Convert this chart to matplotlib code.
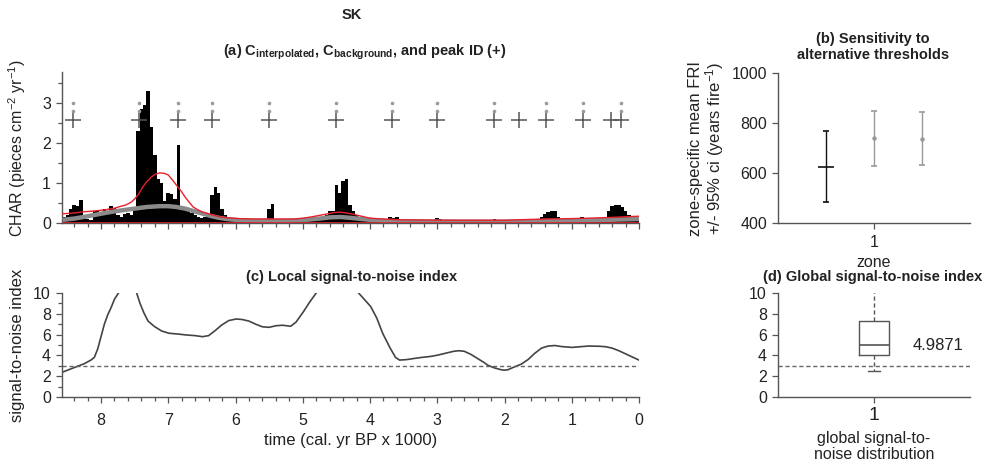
import numpy as np
import matplotlib
matplotlib.use("Agg")
import matplotlib.pyplot as plt
from matplotlib.ticker import MultipleLocator

plt.rcParams['font.family'] = ['Liberation Sans', 'DejaVu Sans']
plt.rcParams['mathtext.fontset'] = 'custom'
plt.rcParams['mathtext.rm'] = 'Liberation Sans'
plt.rcParams['mathtext.bf'] = 'Liberation Sans:bold'
plt.rcParams['mathtext.it'] = 'Liberation Sans:italic'

# --- (a) interpolated CHAR, 50-yr bins, oldest first (start 8.55 kyr BP)
char_start, char_step = 8.55, 0.05
char_values = [
    0.15, 0.20, 0.35, 0.45, 0.42, 0.58, 0.12, 0.10, 0.08, 0.30,
    0.33, 0.25, 0.35, 0.30, 0.42, 0.38, 0.20, 0.15, 0.22, 0.25,
    0.20, 0.35, 2.30, 2.85, 2.95, 3.30, 2.40, 1.70, 1.10, 1.00,
    0.55, 0.75, 0.72, 0.60, 1.95, 0.40, 0.35, 0.30, 0.25, 0.20,
    0.15, 0.12, 0.15, 0.20, 0.70, 0.90, 0.75, 0.35, 0.20, 0.12,
    0.10, 0.08, 0.06, 0.05, 0.08, 0.06, 0.05, 0.07, 0.05, 0.04,
    0.05, 0.35, 0.48, 0.05, 0.04, 0.03, 0.05, 0.04, 0.05, 0.06,
    0.05, 0.06, 0.08, 0.07, 0.08, 0.10, 0.12, 0.15, 0.20, 0.30,
    0.30, 0.95, 0.75, 1.05, 1.10, 0.45, 0.30, 0.20, 0.10, 0.08,
    0.06, 0.05, 0.05, 0.04, 0.05, 0.06, 0.08, 0.15, 0.12, 0.15,
    0.10, 0.05, 0.04, 0.03, 0.04, 0.03, 0.04, 0.03, 0.04, 0.05,
    0.08, 0.12, 0.10, 0.04, 0.03, 0.03, 0.02, 0.03, 0.02, 0.03,
    0.02, 0.03, 0.02, 0.03, 0.03, 0.04, 0.05, 0.06, 0.10, 0.05,
    0.04, 0.04, 0.05, 0.04, 0.05, 0.08, 0.10, 0.06, 0.05, 0.05,
    0.06, 0.08, 0.15, 0.22, 0.28, 0.30, 0.30, 0.15, 0.08, 0.07,
    0.06, 0.07, 0.08, 0.10, 0.15, 0.12, 0.08, 0.07, 0.08, 0.10,
    0.12, 0.15, 0.30, 0.42, 0.45, 0.45, 0.40, 0.30, 0.20, 0.15,
    0.12, 0.10,
]

# threshold (red) curve
thr_age = [8.57, 8.40, 8.26, 8.10, 7.94, 7.80, 7.70, 7.63, 7.55, 7.50, 7.44,
           7.38, 7.32, 7.25, 7.19, 7.13, 7.06, 7.00, 6.94, 6.88, 6.81, 6.75,
           6.69, 6.63, 6.56, 6.50, 6.38, 6.25, 6.13, 5.95, 5.75, 5.40, 5.13,
           5.00, 4.88, 4.75, 4.63, 4.54, 4.44, 4.35, 4.25, 4.13, 4.00, 3.80,
           3.56, 2.94, 2.00, 1.70, 1.38, 1.00, 0.75, 0.40, 0.00]
thr_val = [0.23, 0.25, 0.28, 0.30, 0.33, 0.37, 0.42, 0.45, 0.52, 0.60, 0.72,
           0.90, 1.03, 1.15, 1.22, 1.25, 1.24, 1.20, 1.08, 0.95, 0.80, 0.65,
           0.52, 0.40, 0.33, 0.28, 0.22, 0.16, 0.13, 0.11, 0.10, 0.10, 0.10,
           0.12, 0.15, 0.19, 0.23, 0.26, 0.27, 0.25, 0.22, 0.17, 0.12, 0.10,
           0.08, 0.07, 0.07, 0.085, 0.10, 0.11, 0.12, 0.14, 0.17]

# background (grey) curve
bkg_age = [8.57, 8.40, 8.26, 8.10, 7.94, 7.80, 7.63, 7.45, 7.32, 7.13, 7.00,
           6.88, 6.75, 6.63, 6.50, 6.38, 6.25, 6.13, 5.95, 5.75, 5.40, 5.13,
           4.95, 4.75, 4.60, 4.44, 4.30, 4.13, 3.95, 3.75, 3.30, 2.63, 2.00,
           1.38, 0.90, 0.44, 0.00]
bkg_val = [0.08, 0.11, 0.15, 0.20, 0.25, 0.29, 0.33, 0.37, 0.40, 0.42, 0.42,
           0.40, 0.36, 0.30, 0.24, 0.18, 0.13, 0.10, 0.07, 0.06, 0.05, 0.06,
           0.08, 0.11, 0.14, 0.15, 0.13, 0.10, 0.07, 0.05, 0.04, 0.03, 0.03,
           0.05, 0.06, 0.08, 0.10]

peak_ages = [8.41, 7.44, 6.85, 6.35, 5.50, 4.50, 3.68, 3.00, 2.15, 1.78,
             1.38, 0.84, 0.41, 0.27]
peak_y = 2.58
alt_ages = [8.41, 7.44, 6.85, 6.35, 5.50, 4.50, 3.68, 3.00, 2.15,
            1.38, 0.84, 0.27]
alt_y = [3.0, 2.8]

# --- (b) FRI sensitivity to thresholds
fri_x = [0.75, 1.0, 1.25]
fri_mean = [624, 739, 736]
fri_lo = [485, 627, 631]
fri_hi = [768, 848, 844]

# --- (c) local signal-to-noise index
sni_age = [8.56, 8.45, 8.35, 8.25, 8.15, 8.10, 8.05, 8.00, 7.95, 7.90, 7.85,
           7.80, 7.74, 7.70, 7.60, 7.50, 7.47, 7.42, 7.36, 7.30, 7.21, 7.10,
           6.99, 6.85, 6.74, 6.60, 6.49, 6.40, 6.30, 6.21, 6.10, 5.99, 5.90,
           5.80, 5.70, 5.60, 5.50, 5.40, 5.30, 5.18, 5.10, 4.99, 4.90, 4.80,
           4.60, 4.40, 4.17, 4.10, 3.99, 3.90, 3.81, 3.70, 3.62, 3.56, 3.45,
           3.35, 3.24, 3.10, 2.99, 2.85, 2.75, 2.68, 2.60, 2.50, 2.40, 2.30,
           2.25, 2.15, 2.05, 2.00, 1.95, 1.85, 1.75, 1.65, 1.55, 1.45, 1.35,
           1.25, 1.15, 1.00, 0.90, 0.75, 0.60, 0.50, 0.40, 0.30, 0.20, 0.10,
           0.00]
sni_val = [2.42, 2.70, 2.95, 3.20, 3.55, 3.80, 4.60, 5.80, 7.00, 7.90, 8.60,
           9.40, 10.0, 10.6, 11.2, 10.6, 10.0, 9.00, 8.06, 7.30, 6.80, 6.35,
           6.13, 6.05, 5.97, 5.90, 5.80, 5.90, 6.40, 6.90, 7.35, 7.50, 7.45,
           7.30, 7.00, 6.75, 6.70, 6.85, 6.90, 6.80, 7.20, 8.20, 9.10, 10.0,
           11.5, 11.5, 10.0, 9.50, 8.70, 7.60, 6.10, 4.70, 3.80, 3.55, 3.60,
           3.70, 3.80, 3.90, 4.03, 4.25, 4.40, 4.45, 4.40, 4.10, 3.70, 3.30,
           3.06, 2.80, 2.62, 2.58, 2.62, 2.90, 3.16, 3.60, 4.20, 4.70, 4.90,
           4.95, 4.85, 4.77, 4.82, 4.90, 4.88, 4.84, 4.70, 4.45, 4.15, 3.85,
           3.55]
sni_threshold = 3

# --- (d) global signal-to-noise distribution
gsni_stats = dict(med=5.0, q1=4.0, q3=7.3, whislo=2.5, whishi=10.5, fliers=[])
gsni_median_label = '4.9871'

fig = plt.figure(figsize=(9.9, 4.61), dpi=100)
W, H = 990.0, 461.0


def box(l, t, r, b):
    return [l / W, 1 - b / H, (r - l) / W, (b - t) / H]


axc_col = '#555555'
txt_col = '#222222'


def style(ax):
    for s in ['top', 'right']:
        ax.spines[s].set_visible(False)
    for s in ['left', 'bottom']:
        ax.spines[s].set_color(axc_col)
        ax.spines[s].set_linewidth(1.0)
    ax.tick_params(which='both', direction='out', color=axc_col, width=0.9,
                   labelsize=11.5, labelcolor=txt_col)
    ax.tick_params(which='major', length=4.5)
    ax.tick_params(which='minor', length=3)


ax_a = fig.add_axes(box(62, 72, 639, 223))
ax_b = fig.add_axes(box(778, 73, 970, 223))
ax_c = fig.add_axes(box(62, 293, 639, 397))
ax_d = fig.add_axes(box(778, 293, 970, 397))
for ax in (ax_a, ax_b, ax_c, ax_d):
    style(ax)

# (a)
ages = char_start - char_step * np.arange(len(char_values))
ax_a.bar(ages, char_values, width=char_step * 1.05, color='black', linewidth=0, zorder=2)
ax_a.plot(bkg_age, bkg_val, color='#8a8a8a', lw=3.2, zorder=3, solid_capstyle='butt')
ax_a.plot(thr_age, thr_val, color='#e8202a', lw=1.0, zorder=4)
ax_a.plot([8.58, 0], [0.005, 0.005], color='#e8202a', lw=1.2, zorder=4)
ax_a.plot(peak_ages, [peak_y] * len(peak_ages), linestyle='none', marker='+',
          ms=11, mew=1.1, color='#555555', zorder=5)
for yy in alt_y:
    ax_a.plot(alt_ages, [yy] * len(alt_ages), linestyle='none', marker='o',
              ms=2.6, mew=0, color='#9a9a9a', zorder=5)
ax_a.set_xlim(8.58, 0)
ax_a.set_ylim(0, 3.77)
ax_a.xaxis.set_major_locator(MultipleLocator(1))
ax_a.xaxis.set_minor_locator(MultipleLocator(0.2))
ax_a.set_xticklabels([])
ax_a.set_yticks([0, 1, 2, 3])
ax_a.yaxis.set_minor_locator(MultipleLocator(0.5))
ax_a.set_ylabel(r'CHAR (pieces cm$^{\mathrm{-2}}$ yr$^{\mathrm{-1}}$)', fontsize=11.5, color=txt_col)
ax_a.yaxis.set_label_coords(-0.059, 0.5)

# (b)
for i in range(len(fri_x)):
    col = '#111111' if i == 0 else '#999999'
    mk = '_' if i == 0 else '.'
    ms = 12 if i == 0 else 4
    ax_b.errorbar([fri_x[i]], [fri_mean[i]],
                  yerr=[[fri_mean[i] - fri_lo[i]], [fri_hi[i] - fri_mean[i]]],
                  fmt=mk, ms=ms, mew=1.2, color=col, ecolor=col, elinewidth=1.0,
                  capsize=2, capthick=0.8)
ax_b.set_xlim(0.5, 1.5)
ax_b.set_ylim(400, 1000)
ax_b.set_yticks([400, 600, 800, 1000])
ax_b.set_xticks([1])
ax_b.tick_params(axis='x', pad=4)
ax_b.set_xlabel('zone', fontsize=11.5, color=txt_col)
ax_b.xaxis.set_label_coords(0.5, -0.215)
ax_b.set_ylabel('zone-specific mean FRI\n+/- 95% ci (years fire$^{\\mathrm{-1}}$)',
                fontsize=12, color=txt_col, linespacing=1.0)
ax_b.yaxis.set_label_coords(-0.27, 0.5)

# (c)
ax_c.plot(sni_age, sni_val, color='#444444', lw=1.2)
ax_c.axhline(sni_threshold, color='#666666', lw=1.0, ls=(0, (3, 2)))
ax_c.set_xlim(8.58, 0)
ax_c.set_ylim(0, 10)
ax_c.xaxis.set_major_locator(MultipleLocator(1))
ax_c.xaxis.set_minor_locator(MultipleLocator(0.2))
ax_c.set_yticks([0, 2, 4, 6, 8, 10])
ax_c.yaxis.set_minor_locator(MultipleLocator(1))
ax_c.tick_params(axis='x', pad=7)
ax_c.set_ylabel('signal-to-noise index', fontsize=12, color=txt_col)
ax_c.yaxis.set_label_coords(-0.064, 0.5)
ax_c.set_xlabel('time (cal. yr BP x 1000)', fontsize=12, color=txt_col)
ax_c.xaxis.set_label_coords(0.5, -0.35)

# (d)
ax_d.bxp([gsni_stats], positions=[1], widths=0.16, capwidths=0.06, showfliers=False,
         boxprops=dict(color='#555555', lw=1.0),
         medianprops=dict(color='#555555', lw=1.2),
         whiskerprops=dict(color='#555555', lw=1.0, ls=(0, (3, 2))),
         capprops=dict(color='#555555', lw=1.0))
ax_d.axhline(sni_threshold, color='#666666', lw=1.0, ls=(0, (3, 2)))
ax_d.text(1.2, gsni_stats['med'], gsni_median_label, fontsize=12, color=txt_col, va='center')
ax_d.set_xlim(0.5, 1.5)
ax_d.set_ylim(0, 10)
ax_d.set_yticks([0, 2, 4, 6, 8, 10])
ax_d.set_xticks([1])
ax_d.set_xticklabels(['1'], fontsize=14)
ax_d.tick_params(axis='x', pad=3)
ax_d.set_xlabel('global signal-to-\nnoise distribution', fontsize=11.5, color=txt_col,
                linespacing=1.05)
ax_d.xaxis.set_label_coords(0.5, -0.33)

# titles
tkw = dict(ha='center', va='center', fontweight='bold', fontsize=10.5, color=txt_col)
fig.text(352 / W, 1 - 15 / H, 'SK', **tkw)
fig.text(365 / W, 1 - 52 / H,
         r'(a) C$_{\mathbf{interpolated}}$, C$_{\mathbf{background}}$, and peak ID (+)', **tkw)
fig.text(873 / W, 1 - 47 / H, '(b) Sensitivity to\nalternative thresholds',
         linespacing=1.15, **tkw)
fig.text(352 / W, 1 - 277 / H, '(c) Local signal-to-noise index', **tkw)
fig.text(873 / W, 1 - 277 / H, '(d) Global signal-to-noise index', **tkw)

fig.savefig('out.png', dpi=100)
